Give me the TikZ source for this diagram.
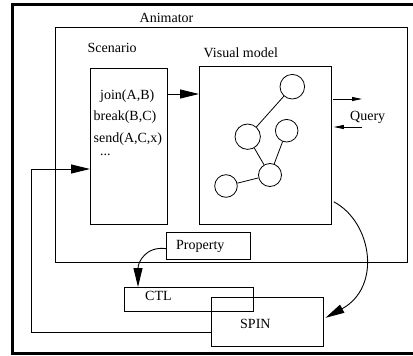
\documentclass[tikz,border=0pt]{standalone}
\usepackage{fontspec}
\setmainfont{Liberation Serif}
\usetikzlibrary{arrows.meta,calc}
\begin{document}
\begin{tikzpicture}[x=1pt,y=-1pt,
  box/.style={draw,line width=0.8pt,inner sep=0pt,anchor=north west},
  vtx/.style={draw,circle,line width=0.8pt,inner sep=0pt},
  lbl/.style={anchor=base west,inner sep=0pt,font=\fontsize{14}{16}\selectfont},
  bigarrow/.style={line width=0.9pt,-{Triangle[length=19pt,width=9pt]}},
  smallarrow/.style={line width=0.8pt,-{Triangle[length=10pt,width=4pt]}},
  edge/.style={line width=0.8pt}]
\useasboundingbox (0,0) rectangle (413,356);
% outer frame
\draw[line width=3pt] (12,4) rectangle (416,353.5);
% boxes
\node[box,minimum width=351.5pt,minimum height=235pt] (anim) at (55,26.7) {};
\node[box,minimum width=76.5pt,minimum height=155.7pt] (scen) at (90,68.3) {};
\node[box,minimum width=131.5pt,minimum height=158.5pt] (vis) at (199,65.5) {};
\node[box,minimum width=84pt,minimum height=27.5pt] (prop) at (166,231.5) {};
\node[box,minimum width=129.3pt,minimum height=24pt] (ctl) at (124,287) {};
\node[box,minimum width=111.7pt,minimum height=48.2pt] (spin) at (211,297.3) {};
% labels
\node[lbl] (tanim) at (139.5,22.3) {Animator};
\node[lbl] (tscen) at (87.5,52.7) {Scenario};
\node[lbl] (tvis) at (203.5,57.7) {Visual model};
\node[lbl] (tjoin) at (100,99) {join(A,B)};
\node[lbl] (tbreak) at (93.5,120.5) {break(B,C)};
\node[lbl] (tsend) at (93.5,142) {send(A,C,x)};
\node[lbl] (tdots) at (100,155) {...};
\node[lbl] (tquery) at (350,120) {Query};
\node[lbl] (tprop) at (176,249.5) {Property};
\node[lbl] (tctl) at (145,300.7) {CTL};
\node[lbl] (tspin) at (240,328.3) {SPIN};
% graph
\node[vtx,minimum size=24.6pt] (c1) at (292.3,86.7) {};
\node[vtx,minimum size=25.4pt] (c2) at (247.7,136.7) {};
\node[vtx,minimum size=22.6pt] (c3) at (286.7,130.7) {};
\node[vtx,minimum size=23pt] (c4) at (270,175) {};
\node[vtx,minimum size=22.6pt] (c5) at (226,186) {};
\draw[edge] (c1) -- (c2);
\draw[edge] (c2) -- (c4);
\draw[edge] (c3) -- (c4);
\draw[edge] (c4) -- (c5);
% scenario -> visual model
\coordinate (jrow) at (0,94);
\draw[bigarrow] (scen.east |- jrow) -- (vis.west |- jrow);
% query arrows
\coordinate (qr) at (362,99);
\coordinate (ql) at (362,127);
\draw[smallarrow] ([xshift=1.5pt]vis.east |- qr) -- (qr);
\draw[smallarrow] (ql) -- ([xshift=2.5pt]vis.east |- ql);
% property -> CTL
\draw[bigarrow] ([yshift=-3pt]prop.west) .. controls (146,246) and (138,262) .. ([xshift=14pt]ctl.north west);
% visual model -> SPIN
\draw[bigarrow] ($(vis.south east)+(2.5,-23)$) .. controls (372,222) and (382,287) .. ([xshift=2pt,yshift=4pt]spin.east);
% feedback SPIN -> scenario
\coordinate (fb) at (31,169);
\coordinate (fbb) at (31,332);
\draw[bigarrow] (spin.west |- fbb) -- (fbb) -- (fb) -- (scen.west |- fb);
\end{tikzpicture}
\end{document}
